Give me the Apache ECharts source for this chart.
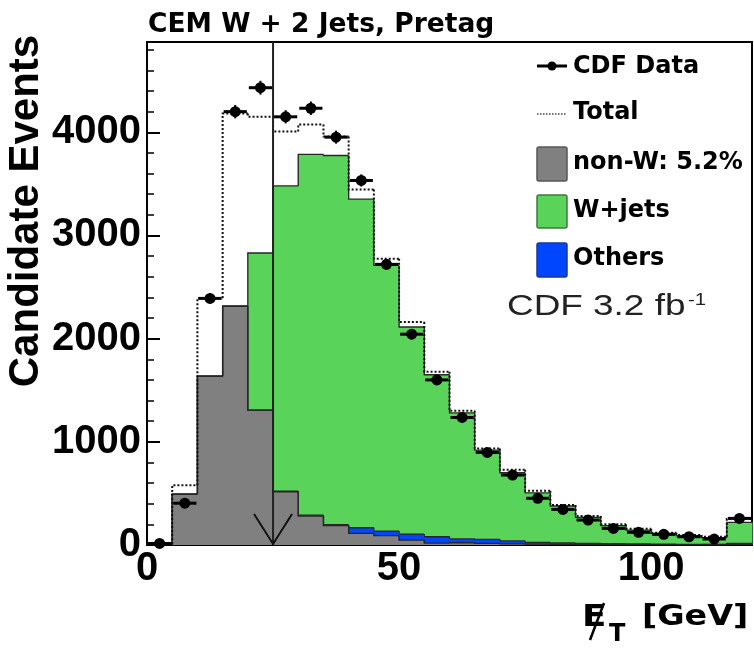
<!DOCTYPE html>
<html><head><meta charset="utf-8">
<script src="https://cdn.jsdelivr.net/npm/echarts@6/dist/echarts.min.js"></script>
<style>html,body{margin:0;padding:0;background:#fff}#c{width:754px;height:651px}</style>
</head><body><div id="c"></div>
<script>
// ---- data (bins of 5 GeV in missing ET) ----
const binLow = [0,5,10,15,20,25,30,35,40,45,50,55,60,65,70,75,80,85,90,95,100,105,110,115];
const binWidth = 5;
const cdfData = [15,405,2390,4200,4432,4150,4233,3953,3533,2720,2043,1600,1236,897,678,453,345,242,161,123,103,80,58,258];
const cdfErr  = [4,20,49,65,67,64,65,63,59,52,45,40,35,30,26,21,19,16,13,11,10,9,8,16];
const totalPred = [10,580,2395,4182,4150,4008,4076,3959,3445,2775,2162,1680,1300,936,730,526,387,281,200,158,119,97,81,252];
const nonW   = [0,494,1636,2314,1307,516,281,187,113,90,48,18,22,15,10,8,6,5,4,3,3,2,2,5];
const others = [0,0,0,0,0,5,8,10,54,45,58,62,38,40,30,17,14,10,8,7,6,5,5,10];
const wJets  = [0,0,0,0,1523,2959,3496,3578,3185,2575,2007,1570,1221,865,660,481,358,253,175,135,104,82,64,205];
const cutValue = 25;
const xMin = 0, xMax = 120, yMin = 0, yMax = 4875;
const xMajor = 50, xMinor = 10, yMajor = 1000, yMinor = 200;
const titleText = 'CEM W + 2 Jets, Pretag';
const yTitle = 'Candidate Events';
const legendNames = ['CDF Data','Total','non-W: 5.2%','W+jets','Others'];

const C_GRAY = '#808080', C_GREEN = '#59d359', C_BLUE = '#0046ff';

function layer(vals, belowArrs){
  const tops = binLow.map((lo,i)=>{
    let base = 0; belowArrs.forEach(a=>{ base += a[i]; });
    return [base, base+vals[i]];
  });
  return binLow.map((lo,i)=>[lo, lo+binWidth, tops[i][0], tops[i][1], i>0 ? tops[i-1][1] : 0]);
}
const nonWData = layer(nonW, []);
const othersData = layer(others, [nonW]);
const wjData = layer(wJets, [nonW, others]);
const totalData = binLow.map((lo,i)=>[lo, lo+binWidth, i>0?totalPred[i-1]:0, totalPred[i]]);
const cdfPts = binLow.map((lo,i)=>[lo, lo+binWidth, cdfData[i], cdfErr[i]]);

function histRender(color){
  return function(params, api){
    const lo=api.value(0), hi=api.value(1), b=api.value(2), t=api.value(3), pt=api.value(4);
    const p1=api.coord([lo,t]), p2=api.coord([hi,b]);
    const children = [];
    if (t>b) children.push({type:'rect', shape:{x:p1[0]-0.5, y:p1[1], width:p2[0]-p1[0]+1, height:p2[1]-p1[1]},
      style:{fill:color}});
    const a=api.coord([lo,pt]), c=api.coord([hi,t]);
    if (t>0 || pt>0) children.push({type:'polyline', z2:5, shape:{points:[a,[a[0],p1[1]],c]},
      style:{stroke:'#262626', lineWidth:1.3, fill:null}});
    return {type:'group', children:children};
  };
}

const chart = echarts.init(document.getElementById('c'), null, {renderer:'canvas'});
const tickLabel = {fontFamily:'Liberation Sans', fontWeight:'bold', fontSize:40, color:'#000'};

chart.setOption({
  animation:false,
  backgroundColor:'#fff',
  grid:{left:147, right:2, top:42, bottom:106, show:true, borderColor:'#000', borderWidth:2, backgroundColor:'transparent', containLabel:false, outerBoundsMode:'none'},
  xAxis:[
    {type:'value', min:xMin, max:xMax, interval:xMajor, position:'bottom',
     axisLine:{show:true, onZero:false, lineStyle:{color:'#000', width:2}},
     axisTick:{show:true, inside:true, length:13, lineStyle:{color:'#000', width:2}},
     axisLabel:Object.assign({margin:4, formatter:v=> (v % xMajor === 0 ? String(v) : '')}, tickLabel),
     splitLine:{show:false}},
    {type:'value', min:xMin, max:xMax, interval:xMinor, position:'bottom',
     axisLine:{show:false}, axisTick:{show:true, inside:true, length:6, lineStyle:{color:'#000', width:1.5}},
     axisLabel:{show:false}, splitLine:{show:false}}
  ],
  yAxis:[
    {type:'value', min:yMin, max:yMax, interval:yMajor, position:'left',
     axisLine:{show:true, onZero:false, lineStyle:{color:'#000', width:2}},
     axisTick:{show:true, inside:true, length:13, lineStyle:{color:'#000', width:2}},
     axisLabel:Object.assign({margin:6, formatter:v=> (v % yMajor === 0 ? String(v) : '')}, tickLabel),
     splitLine:{show:false}},
    {type:'value', min:yMin, max:yMax, interval:yMinor, position:'left',
     axisLine:{show:false}, axisTick:{show:true, inside:true, length:7, lineStyle:{color:'#000', width:1.5}},
     axisLabel:{show:false}, splitLine:{show:false}}
  ],
  series:[
    {type:'custom', name:'non-W', z:2, data:nonWData, encode:{x:[0,1], y:[2,3]}, renderItem:histRender(C_GRAY)},
    {type:'custom', name:'Others', z:2, data:othersData, encode:{x:[0,1], y:[2,3]}, renderItem:histRender(C_BLUE)},
    {type:'custom', name:'W+jets', z:2, data:wjData, encode:{x:[0,1], y:[2,3]}, renderItem:histRender(C_GREEN)},
    {type:'custom', name:'Total', z:3, data:totalData, encode:{x:[0,1], y:[2,3]},
     renderItem:function(params, api){
       const lo=api.value(0), hi=api.value(1), pv=api.value(2), v=api.value(3);
       const a=api.coord([lo,pv]), b=api.coord([lo,v]), c=api.coord([hi,v]);
       return {type:'polyline', shape:{points:[a,b,c]}, style:{stroke:'#111', lineWidth:2, lineDash:[2,2], fill:null}};
     }},
    {type:'custom', name:'CDF Data', z:5, data:cdfPts, encode:{x:[0,1], y:2},
     renderItem:function(params, api){
       const lo=api.value(0), hi=api.value(1), v=api.value(2), e=api.value(3);
       const xc=(lo+hi)/2;
       const pc=api.coord([xc,v]), pl=api.coord([lo,v]), ph=api.coord([hi,v]);
       const pu=api.coord([xc,v+e]), pd=api.coord([xc,Math.max(v-e,0)]);
       return {type:'group', children:[
         {type:'line', shape:{x1:pl[0]+1, y1:pc[1], x2:ph[0]-1, y2:pc[1]}, style:{stroke:'#000', lineWidth:3}},
         {type:'line', shape:{x1:pc[0], y1:pu[1], x2:pc[0], y2:pd[1]}, style:{stroke:'#000', lineWidth:2}},
         {type:'circle', shape:{cx:pc[0], cy:pc[1], r:5.5}, style:{fill:'#000'}}
       ]};
     }},
    {type:'custom', name:'cut', z:4, data:[[cutValue]], encode:{x:0},
     renderItem:function(params, api){
       const c=api.value(0);
       const top=api.coord([c,yMax]), bot=api.coord([c,0]);
       return {type:'group', children:[
         {type:'line', shape:{x1:top[0], y1:top[1], x2:bot[0], y2:bot[1]}, style:{stroke:'#222', lineWidth:2}},
         {type:'polyline', shape:{points:[[bot[0]-19,bot[1]-31],[bot[0],bot[1]-1],[bot[0]+19,bot[1]-31]]}, style:{stroke:'#111', lineWidth:2, fill:null}}
       ]};
     }}
  ],
  graphic:[
    {type:'text', x:148, y:25, style:{text:titleText, fontFamily:'DejaVu Sans', fontWeight:'bold', fontSize:26.5, fill:'#000', align:'left', verticalAlign:'middle'}},
    {type:'text', x:26, y:211, rotation:Math.PI/2, style:{text:yTitle, fontFamily:'Liberation Sans', fontWeight:'bold', fontSize:42, fill:'#000', align:'center', verticalAlign:'middle'}},
    {type:'text', x:582, y:618, scaleX:1.15, style:{text:'E', fontFamily:'DejaVu Sans', fontWeight:'bold', fontSize:31, fill:'#000', align:'left', verticalAlign:'middle'}},
    {type:'text', x:609, y:635, style:{text:'T', fontFamily:'DejaVu Sans', fontWeight:'bold', fontSize:24, fill:'#000', align:'left', verticalAlign:'middle'}},
    {type:'text', x:642, y:617, scaleX:1.15, style:{text:'[GeV]', fontFamily:'DejaVu Sans', fontWeight:'bold', fontSize:29, fill:'#000', align:'left', verticalAlign:'middle'}},
    {type:'line', z:100, shape:{x1:604, y1:603, x2:590, y2:640}, style:{stroke:'#000', lineWidth:2.5}},
    // legend
    {type:'line', shape:{x1:537, y1:66, x2:567, y2:66}, style:{stroke:'#000', lineWidth:3}},
    {type:'circle', shape:{cx:552, cy:66, r:4.5}, style:{fill:'#000'}},
    {type:'text', x:573, y:66.5, style:{text:legendNames[0], fontFamily:'DejaVu Sans', fontWeight:'bold', fontSize:24, fill:'#000', verticalAlign:'middle'}},
    {type:'line', shape:{x1:537, y1:114, x2:567, y2:114}, style:{stroke:'#444', lineWidth:1.5, lineDash:[1.5,1.5]}},
    {type:'text', x:573, y:113, style:{text:legendNames[1], fontFamily:'DejaVu Sans', fontWeight:'bold', fontSize:24, fill:'#000', verticalAlign:'middle'}},
    {type:'rect', shape:{x:537, y:147, width:30, height:34, r:2}, style:{fill:C_GRAY, stroke:'#555', lineWidth:1.5}},
    {type:'text', x:573, y:163, style:{text:legendNames[2], fontFamily:'DejaVu Sans', fontWeight:'bold', fontSize:24, fill:'#000', verticalAlign:'middle'}},
    {type:'rect', shape:{x:537, y:195, width:30, height:33, r:2}, style:{fill:C_GREEN, stroke:'#3c7a3c', lineWidth:1.5}},
    {type:'text', x:573, y:211, style:{text:legendNames[3], fontFamily:'DejaVu Sans', fontWeight:'bold', fontSize:24, fill:'#000', verticalAlign:'middle'}},
    {type:'rect', shape:{x:537, y:243, width:30, height:34, r:2}, style:{fill:C_BLUE, stroke:'#1a3a8a', lineWidth:1.5}},
    {type:'text', x:573, y:259, style:{text:legendNames[4], fontFamily:'DejaVu Sans', fontWeight:'bold', fontSize:24, fill:'#000', verticalAlign:'middle'}},
    {type:'text', x:507, y:307, scaleX:1.23, style:{text:'CDF 3.2 fb', fontFamily:'Liberation Sans', fontSize:30, fill:'#222', align:'left', verticalAlign:'middle'}},
    {type:'text', x:688, y:300, scaleX:1.2, style:{text:'-1', fontFamily:'Liberation Sans', fontSize:17, fill:'#222', align:'left', verticalAlign:'middle'}}
  ]
});
</script>
</body></html>
